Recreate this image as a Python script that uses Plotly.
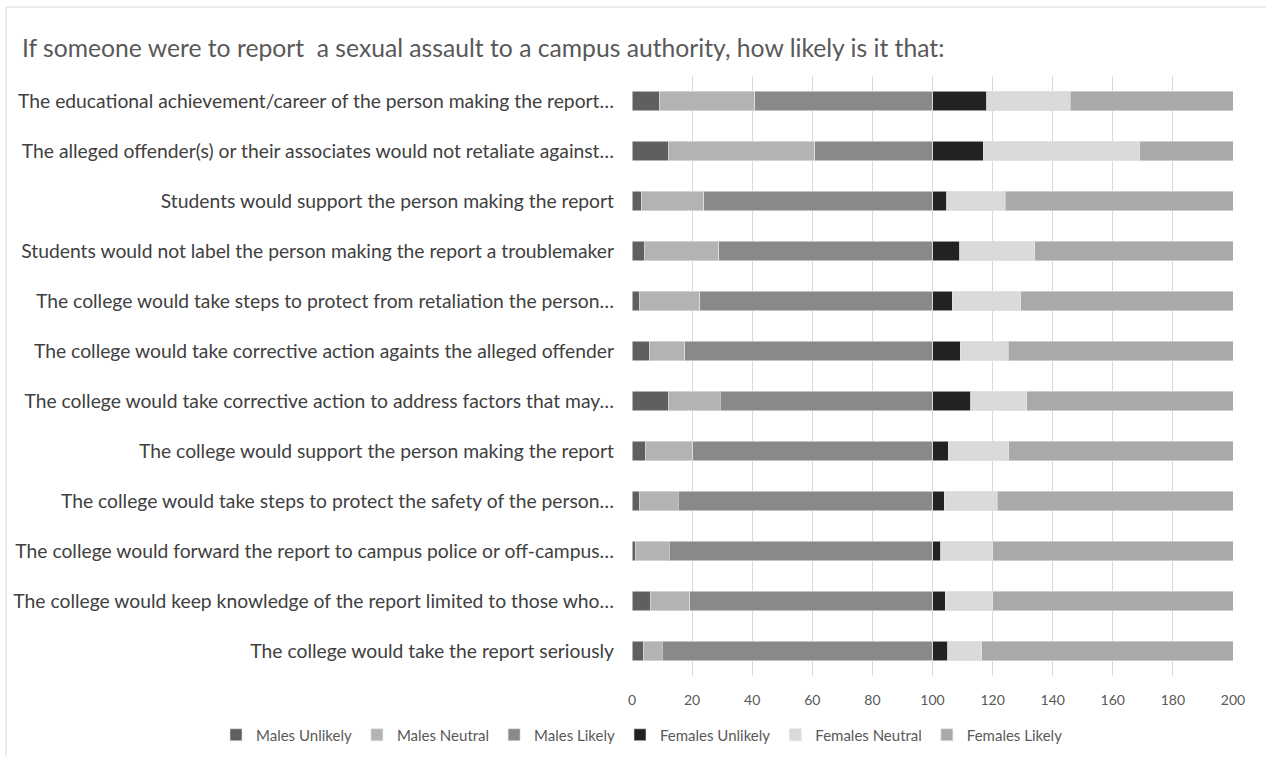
import plotly.graph_objects as go

# Survey items, top to bottom
items = [
    "The educational achievement/career of the person making the report…",
    "The alleged offender(s) or their associates would not retaliate against…",
    "Students would support the person making the report",
    "Students would not label the person making the report a troublemaker",
    "The college would take steps to protect from retaliation the person…",
    "The college would take corrective action againts the alleged offender",
    "The college would take corrective action to address factors that may…",
    "The college would support the person making the report",
    "The college would take steps to protect the safety of the person…",
    "The college would forward the report to campus police or off-campus…",
    "The college would keep knowledge of the report limited to those who…",
    "The college would take the report seriously",
]

# Percentages per response group
males_unlikely = [9.3, 12.3, 3.1, 4.3, 2.5, 5.9, 12.3, 4.5, 2.5, 1.0, 6.0, 3.7]
males_neutral = [31.5, 48.5, 20.7, 24.6, 20.0, 11.6, 17.1, 15.7, 12.9, 11.4, 13.2, 6.3]
males_likely = [59.2, 39.2, 76.2, 71.1, 77.5, 82.5, 70.6, 79.8, 84.6, 87.6, 80.8, 90.0]
females_unlikely = [18.0, 16.9, 4.7, 9.0, 6.5, 9.2, 12.8, 5.3, 3.9, 2.7, 4.2, 5.1]
females_neutral = [27.8, 52.0, 19.5, 25.1, 22.8, 16.0, 18.6, 20.1, 17.6, 17.4, 15.9, 11.3]
females_likely = [54.2, 31.1, 75.8, 65.9, 70.7, 74.8, 68.6, 74.6, 78.5, 79.9, 79.9, 83.6]

x_ticks = list(range(0, 201, 20))

series = [
    ("Males Unlikely", males_unlikely, "#5f5f5f"),
    ("Males Neutral", males_neutral, "#b3b3b3"),
    ("Males Likely", males_likely, "#898989"),
    ("Females Unlikely", females_unlikely, "#222222"),
    ("Females Neutral", females_neutral, "#dadada"),
    ("Females Likely", females_likely, "#a9a9a9"),
]

FONT = "Lato, Open Sans, sans-serif"

L, R, T, B = 632, 33, 76, 81
PW, PH = 1266 - L - R, 757 - T - B

fig = go.Figure()
for name, vals, color in series:
    fig.add_trace(go.Bar(
        y=items, x=vals, name=name, orientation="h",
        marker=dict(color=color, line=dict(color="#e6e6e6", width=0.6)),
        width=0.39,
    ))

fig.update_layout(
    barmode="stack",
    width=1266, height=757,
    margin=dict(l=L, r=R, t=T, b=B, autoexpand=False),
    paper_bgcolor="white", plot_bgcolor="white",
    font=dict(family=FONT, color="#404040"),
    title=dict(
        text="If someone were to report  a sexual assault to a campus authority, how likely is it that:",
        x=22 / 1266, xanchor="left", y=1 - 48 / 757, yanchor="middle",
        font=dict(size=24.7, color="#595959", family=FONT),
    ),
    xaxis=dict(
        range=[0, 200], tickvals=x_ticks, showgrid=True, gridcolor="#d9d9d9",
        gridwidth=1, zeroline=False, showline=False,
        tickfont=dict(size=14, color="#595959"), ticks="",
        ticklabelstandoff=14,
    ),
    yaxis=dict(
        autorange="reversed", tickfont=dict(size=19.3, color="#404040"),
        showgrid=False, ticks="", ticklabelstandoff=17,
    ),
    legend=dict(
        orientation="h", xref="paper", yref="paper",
        x=(216 - L) / PW, xanchor="left",
        y=-(735 - (757 - B)) / PH, yanchor="middle",
        font=dict(size=15, color="#595959"), traceorder="normal",
        itemwidth=30, tracegroupgap=0,
    ),
    shapes=[dict(
        type="rect", xref="paper", yref="paper",
        x0=(6 - L) / PW, x1=(1270 - L) / PW,
        y0=-0.2, y1=1 + (T - 7) / PH,
        line=dict(color="#d9d9d9", width=1), fillcolor="rgba(0,0,0,0)",
        layer="below",
    )],
)

fig.write_html("out.html")
